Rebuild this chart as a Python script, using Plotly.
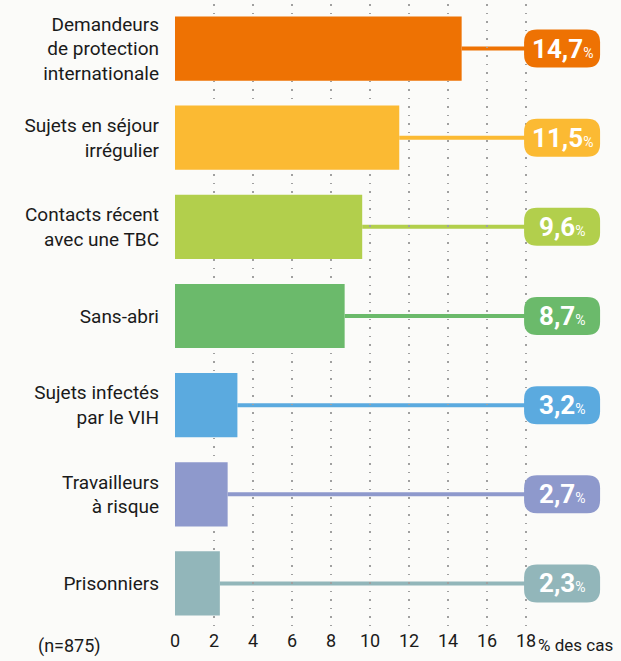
import plotly.graph_objects as go

categories = ["Demandeurs<br>de protection<br>internationale", "Sujets en séjour<br>irrégulier",
              "Contacts récent<br>avec une TBC", "Sans-abri", "Sujets infectés<br>par le VIH",
              "Travailleurs<br>à risque", "Prisonniers"]
values = [14.7, 11.5, 9.6, 8.7, 3.2, 2.7, 2.3]
value_labels = ["14,7", "11,5", "9,6", "8,7", "3,2", "2,7", "2,3"]
colors = ["#ee7203", "#fbba33", "#b2cf4c", "#6bba6b", "#5baadf", "#8e99cc", "#92b6ba"]
tick_vals = [0, 2, 4, 6, 8, 10, 12, 14, 16, 18]

FONT = "Roboto, sans-serif"
badge_x = 19.85

fig = go.Figure()
fig.add_trace(go.Bar(y=categories, x=values, orientation="h",
                     marker=dict(color=colors, line=dict(width=0)),
                     hoverinfo="skip"))

# connector lines + rounded badges
w, h, r = 38, 19, 13
badge_path = (f"M {-w + r},{-h} L {w - r},{-h} Q {w},{-h} {w},{-h + r} L {w},{h - r} "
              f"Q {w},{h} {w - r},{h} L {-w + r},{h} Q {-w},{h} {-w},{h - r} "
              f"L {-w},{-h + r} Q {-w},{-h} {-w + r},{-h} Z")
for cat, v, lab, c in zip(categories, values, value_labels, colors):
    fig.add_shape(type="line", xref="x", yref="y", x0=v, x1=badge_x, y0=cat, y1=cat,
                  line=dict(color=c, width=4), layer="below")
    fig.add_shape(type="path", xref="x", yref="y", xsizemode="pixel", ysizemode="pixel",
                  xanchor=badge_x, yanchor=cat, path=badge_path,
                  fillcolor=c, line=dict(width=0))
    fig.add_annotation(x=badge_x, y=cat, xref="x", yref="y", showarrow=False,
                       text=f"<b>{lab}</b><span style='font-size:14px'>%</span>",
                       font=dict(family=FONT, size=26, color="white"))

fig.add_annotation(x=-0.245, xref="paper", y=-0.008, yref="paper", showarrow=False,
                   text="(n=875)", font=dict(family=FONT, size=18, color="#1a1a1a"),
                   xanchor="center", yanchor="top")
fig.add_annotation(x=18.5, xref="x", y=-0.008, yref="paper", showarrow=False,
                   text="% des cas", font=dict(family=FONT, size=17, color="#1a1a1a"),
                   xanchor="left", yanchor="top")

fig.update_layout(
    width=621, height=661,
    margin=dict(l=175, r=17, t=4, b=33),
    paper_bgcolor="#fbfbf9", plot_bgcolor="#fbfbf9",
    bargap=0.28, showlegend=False,
    font=dict(family=FONT, size=18, color="#1a1a1a"),
)
fig.update_xaxes(range=[0, 22], tickvals=tick_vals, showgrid=True, griddash="1.5px,7px",
                 gridcolor="#a0a0a0", gridwidth=1.5, zeroline=False, showline=False,
                 tickfont=dict(size=18), ticks="", automargin=False, fixedrange=True)
fig.update_yaxes(autorange="reversed", showgrid=False, zeroline=False, showline=False,
                 ticks="", ticklabelstandoff=15, tickfont=dict(size=19), automargin=False,
                 fixedrange=True)

fig.write_html("out.html", config={"displayModeBar": False, "staticPlot": True},
               post_script="document.body.style.margin='0';document.body.style.background='#fbfbf9';")
